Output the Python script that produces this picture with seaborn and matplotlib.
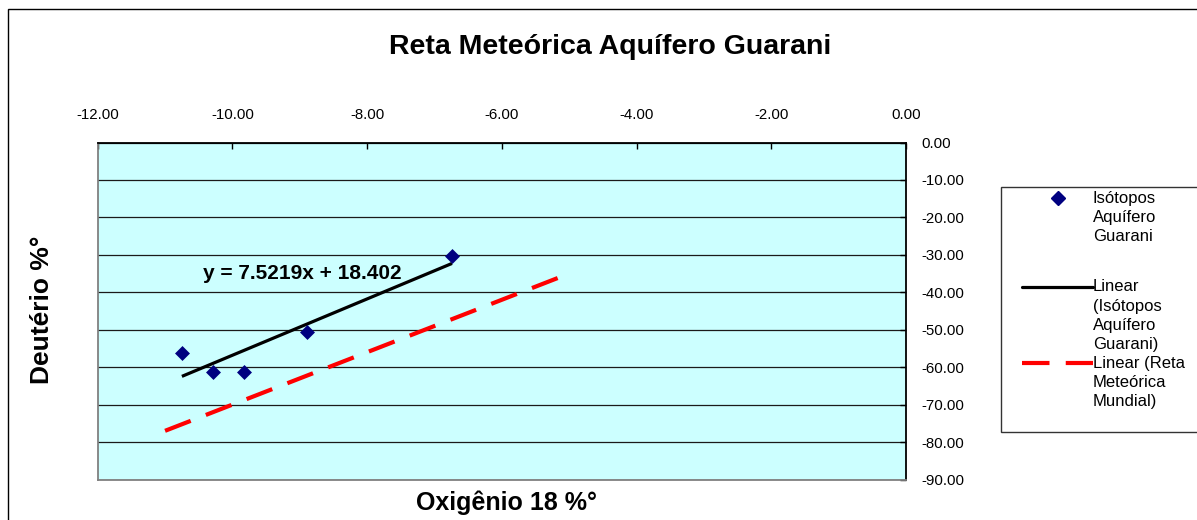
import numpy as np
import matplotlib
matplotlib.use("Agg")
import matplotlib.pyplot as plt
from matplotlib.lines import Line2D
from matplotlib.patches import Rectangle
import seaborn as sns

# Isotope samples from the Guarani aquifer (delta 18O, delta 2H)
d18o = [-10.75, -10.29, -9.83, -8.90, -6.74]
d2h = [-56.1, -61.3, -61.3, -50.6, -30.3]

# Linear trend of the aquifer samples
trend_slope = 7.5219
trend_intercept = 18.402

# World meteoric line endpoints
world_x = [-11.0, -5.0]
world_y = [-77.0, -35.0]

x_ticks = [-12, -10, -8, -6, -4, -2, 0]
y_ticks = [0, -10, -20, -30, -40, -50, -60, -70, -80, -90]

title = "Reta Meteórica Aquífero Guarani"
x_label = "Oxigênio 18 %°"
y_label = "Deutério %°"

sns.set_style("white")
plt.rcParams["font.family"] = ["Liberation Sans", "DejaVu Sans"]
plt.rcParams["text.color"] = "black"
plt.rcParams["axes.labelcolor"] = "black"
plt.rcParams["xtick.color"] = "black"
plt.rcParams["ytick.color"] = "black"

W, H = 1197, 520
fig = plt.figure(figsize=(W / 100, H / 100), dpi=100)
fig.patch.set_facecolor("white")


def fx(px):
    return px / W


def fy(py):
    return 1 - py / H


ax = fig.add_axes([fx(97.7), fy(479.5), (906 - 97.7) / W, (479.5 - 142.5) / H])
ax.set_facecolor("#CCFFFF")

# samples
sns.scatterplot(x=d18o, y=d2h, marker="D", s=58, color="#000080",
                edgecolor="#000080", linewidth=0, ax=ax, zorder=5)

# aquifer trend line over the sample range
tx = np.array([min(d18o), max(d18o)])
ty = trend_slope * tx + trend_intercept
sns.lineplot(x=tx, y=ty, color="black", lw=2.3, ax=ax, zorder=4)
ax.lines[-1].set_solid_capstyle("butt")

# world meteoric line
sns.lineplot(x=world_x, y=world_y, color="#FF0000", lw=3.0, ax=ax, zorder=3)
red = ax.lines[-1]
red.set_dashes((6.6, 3.9))
red.set_dash_capstyle("butt")

ax.text(-8.96, -34.9, f"y = {trend_slope}x + {trend_intercept}",
        ha="center", va="center", fontsize=15, fontweight="bold", zorder=6)

ax.set_xlim(-12, 0)
ax.set_ylim(-90, 0)
ax.xaxis.tick_top()
ax.yaxis.tick_right()
ax.set_xticks(x_ticks)
ax.set_xticklabels([f"{v:.2f}" for v in x_ticks])
ax.set_yticks(y_ticks)
ax.set_yticklabels([f"{v:.2f}" for v in y_ticks])
ax.tick_params(axis="x", direction="in", length=4, width=1, color="black",
               labelsize=10.8, pad=15, top=True, bottom=False,
               labeltop=True, labelbottom=False, labelcolor="black")
ax.tick_params(axis="y", direction="in", length=4, width=1, color="black",
               labelsize=10.8, pad=11, right=True, left=False,
               labelright=True, labelleft=False, labelcolor="black")
ax.grid(axis="y", color="#1a1a1a", lw=0.9)
ax.grid(axis="x", visible=False)
ax.set_axisbelow(True)

for side in ["top", "right"]:
    ax.spines[side].set_color("black")
    ax.spines[side].set_linewidth(1.3)
for side in ["left", "bottom"]:
    ax.spines[side].set_color("#808080")
    ax.spines[side].set_linewidth(1.3)

ax.set_xlabel("")
ax.set_ylabel("")

fig.text(fx(610), fy(47), title, ha="center", va="center",
         fontsize=20.5, fontweight="bold", color="black")
fig.text(fx(506), fy(503), x_label, ha="center", va="center",
         fontsize=18, fontweight="bold", color="black")
fig.text(fx(42), fy(310), y_label, ha="center", va="center",
         fontsize=19, fontweight="bold", rotation=90, color="black")

# outer chart frame
fig.patches.append(Rectangle((fx(8), -0.05), 1.1, fy(9) + 0.05,
                             transform=fig.transFigure, fill=False,
                             edgecolor="black", lw=1.0))

# legend box
fig.patches.append(Rectangle((fx(1001), fy(432)), 0.2, (432 - 187) / H,
                             transform=fig.transFigure, facecolor="white",
                             edgecolor="#333333", lw=1.0, zorder=2))

legend_entries = [
    ("marker", 198.3, ["Isótopos", "Aquífero", "Guarani"]),
    ("solid", 286.7, ["Linear", "(Isótopos", "Aquífero", "Guarani)"]),
    ("dashed", 363.3, ["Linear (Reta", "Meteórica", "Mundial)"]),
]
line_step = 19.3
for kind, y0, lines in legend_entries:
    if kind == "marker":
        fig.add_artist(Line2D([fx(1058)], [fy(y0)], marker="D", ms=7.3,
                              color="#000080", lw=0, transform=fig.transFigure,
                              zorder=3))
    elif kind == "solid":
        fig.add_artist(Line2D([fx(1022), fx(1093)], [fy(y0), fy(y0)],
                              color="black", lw=2.3, transform=fig.transFigure,
                              zorder=3))
    else:
        fig.add_artist(Line2D([fx(1022), fx(1093)], [fy(y0), fy(y0)],
                              color="#FF0000", lw=3.0, dashes=(6.6, 3.9),
                              transform=fig.transFigure, zorder=3))
    for i, t in enumerate(lines):
        fig.text(fx(1093), fy(y0 + i * line_step), t, ha="left", va="center",
                 fontsize=12, zorder=4, color="black")

fig.savefig("out.png", dpi=100)
